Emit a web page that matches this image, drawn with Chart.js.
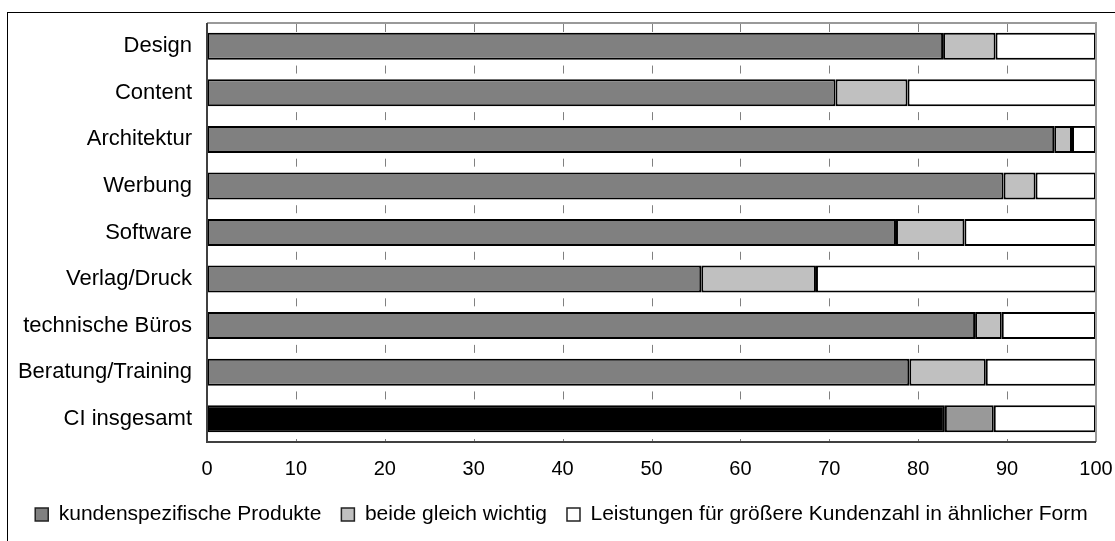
<!DOCTYPE html>
<html>
<head>
<meta charset="utf-8">
<script src="https://cdn.jsdelivr.net/npm/chart.js@4/dist/chart.umd.min.js"></script>
<style>
  html, body { margin: 0; padding: 0; background: #fff; }
  #wrap { width: 1115px; height: 541px; position: relative; }
</style>
</head>
<body>
<div id="wrap"><canvas id="chart" width="1115" height="541"></canvas></div>
<script>
// Daten (Prozent)
const kategorien = ["Design", "Content", "Architektur", "Werbung", "Software", "Verlag/Druck", "technische Büros", "Beratung/Training", "CI insgesamt"];
const kundenspezifisch = [82.8, 70.7, 95.3, 89.6, 77.5, 55.6, 86.4, 79.0, 83.0];
const beideGleich = [5.9, 8.1, 2.0, 3.6, 7.7, 12.9, 3.0, 8.6, 5.5];
const leistungenMehrKunden = [11.3, 21.2, 2.7, 6.8, 14.8, 31.5, 10.6, 12.4, 11.5];
const xTicks = [0, 10, 20, 30, 40, 50, 60, 70, 80, 90, 100];

const serienNamen = ["kundenspezifische Produkte", "beide gleich wichtig", "Leistungen für größere Kundenzahl in ähnlicher Form"];

// letzte Zeile (CI insgesamt) ist dunkler eingefaerbt
function farben(normal, letzte) {
    return kategorien.map((k, i) => i === kategorien.length - 1 ? letzte : normal);
}

// Rahmen, Plotrahmen und kurze Gitterstriche zwischen den Balken
const rahmenPlugin = {
    id: "rahmen",
    beforeDraw(chart) {
        const ctx = chart.ctx;
        const a = chart.chartArea;
        ctx.save();
        ctx.fillStyle = "#fff";
        ctx.fillRect(0, 0, chart.width, chart.height);
        ctx.strokeStyle = "#000";
        ctx.lineWidth = 1;
        ctx.strokeRect(7.5, 12.5, chart.width + 20, chart.height + 20);

        // Gitterstriche
        const xs = chart.scales.x;
        const ys = chart.scales.y;
        const band = ys.getPixelForValue(1) - ys.getPixelForValue(0);
        ctx.strokeStyle = "#808080";
        ctx.lineWidth = 1;
        xTicks.slice(1, -1).forEach(v => {
            const x = Math.round(xs.getPixelForValue(v)) + 0.5;
            ctx.beginPath();
            ctx.moveTo(x, a.top);
            ctx.lineTo(x, a.top + 9);
            for (let i = 0; i < kategorien.length - 1; i++) {
                const ym = ys.getPixelForValue(i) + band / 2;
                ctx.moveTo(x, ym - 4);
                ctx.lineTo(x, ym + 4);
            }
            ctx.moveTo(x, a.bottom - 3);
            ctx.lineTo(x, a.bottom);
            ctx.stroke();
        });
        ctx.restore();
    },
    afterDatasetsDraw(chart) {
        const ctx = chart.ctx;
        const a = chart.chartArea;
        ctx.save();
        ctx.lineWidth = 2;
        ctx.strokeStyle = "#999";
        ctx.beginPath();
        ctx.moveTo(a.left, a.top);
        ctx.lineTo(a.right, a.top);
        ctx.lineTo(a.right, a.bottom);
        ctx.stroke();
        ctx.strokeStyle = "#404040";
        ctx.beginPath();
        ctx.moveTo(a.left, a.top);
        ctx.lineTo(a.left, a.bottom);
        ctx.lineTo(a.right, a.bottom);
        ctx.stroke();
        ctx.restore();
    }
};

const ctx = document.getElementById("chart").getContext("2d");

new Chart(ctx, {
    type: "bar",
    data: {
        labels: kategorien,
        datasets: [
            {
                label: serienNamen[0],
                data: kundenspezifisch,
                backgroundColor: farben("#808080", "#000000"),
                legendColor: "#808080"
            },
            {
                label: serienNamen[1],
                data: beideGleich,
                backgroundColor: farben("#c0c0c0", "#999999"),
                legendColor: "#c0c0c0"
            },
            {
                label: serienNamen[2],
                data: leistungenMehrKunden,
                backgroundColor: "#ffffff",
                legendColor: "#ffffff"
            }
        ]
    },
    options: {
        indexAxis: "y",
        responsive: false,
        animation: false,
        devicePixelRatio: 1,
        layout: { padding: { left: 8, right: 0, top: 23, bottom: 6 } },
        datasets: {
            bar: {
                borderColor: "#000",
                borderWidth: 2,
                borderSkipped: false,
                categoryPercentage: 1,
                barPercentage: 0.58
            }
        },
        scales: {
            x: {
                stacked: true,
                min: 0,
                max: 100,
                grid: { display: false, tickLength: 0 },
                border: { display: false },
                afterBuildTicks: scale => { scale.ticks = xTicks.map(v => ({ value: v })); },
                afterFit: scale => { scale.paddingRight = 19; scale.height = 42; },
                ticks: {
                    color: "#000",
                    padding: 15,
                    font: { family: "Liberation Sans", size: 20 }
                }
            },
            y: {
                stacked: true,
                grid: { display: false },
                border: { display: false },
                afterFit: scale => { scale.width = 199; },
                ticks: {
                    color: "#000",
                    padding: 7,
                    font: { family: "Liberation Sans", size: 22 }
                }
            }
        },
        plugins: {
            tooltip: { enabled: false },
            legend: {
                position: "bottom",
                labels: {
                    color: "#000",
                    boxWidth: 13,
                    boxHeight: 13,
                    padding: 20,
                    font: { family: "Liberation Sans", size: 21 },
                    generateLabels: chart => chart.data.datasets.map((ds, i) => ({
                        text: ds.label,
                        fillStyle: ds.legendColor,
                        strokeStyle: "#222",
                        lineWidth: 1.5,
                        fontColor: "#000",
                        datasetIndex: i
                    }))
                }
            }
        }
    },
    plugins: [rahmenPlugin]
});
</script>
</body>
</html>
